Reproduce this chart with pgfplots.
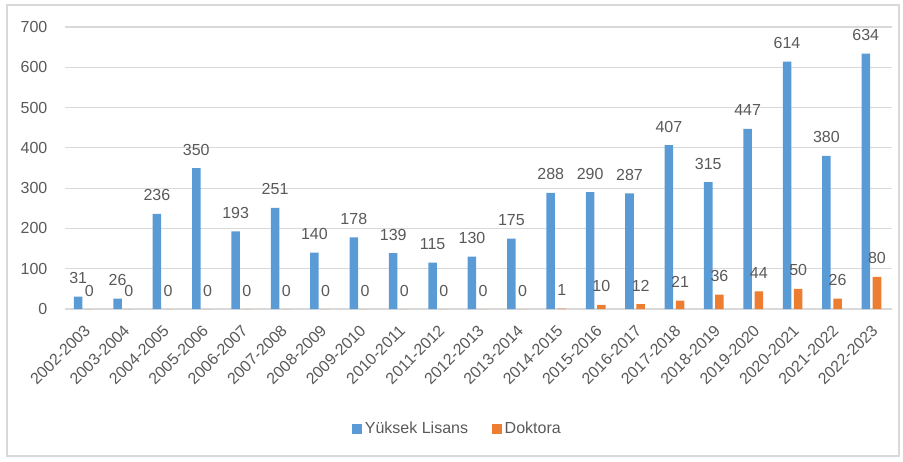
\documentclass[border=0pt]{standalone}
\usepackage{pgfplots}
\pgfplotsset{compat=1.18}
\usepackage{fontspec}
\setmainfont{Liberation Sans}
\definecolor{cblue}{HTML}{5B9BD5}
\definecolor{corange}{HTML}{ED7D31}
\definecolor{ctext}{HTML}{595959}
\definecolor{cgrid}{HTML}{D9D9D9}
\begin{document}
\begin{tikzpicture}
\useasboundingbox (-48.75pt,-114pt) rectangle (628.5pt,231.75pt);
\draw[cgrid, line width=1pt] (-43.5pt,-110.25pt) rectangle (625.5pt,228pt);
\begin{axis}[
  scale only axis, width=620.25pt, height=211.5pt,
  anchor=south west, at={(0pt,0pt)},
  xmin=-0.5, xmax=20.5, ymin=0, ymax=700,
  enlargelimits=false, clip=false,
  ybar, bar width=6.4pt,
  ytick={0,100,...,700},
  xtick={0,...,20},
  xticklabels={2002-2003,2003-2004,2004-2005,2005-2006,2006-2007,2007-2008,2008-2009,2009-2010,2010-2011,2011-2012,2012-2013,2013-2014,2014-2015,2015-2016,2016-2017,2017-2018,2018-2019,2019-2020,2020-2021,2021-2022,2022-2023},
  /pgf/number format/assume math mode=true,
  major tick length=0pt,
  axis line style={draw=none},
  ymajorgrids, grid style={cgrid, line width=0.9pt},
  tick label style={font=\fontsize{12}{14}\selectfont, color=ctext},
  yticklabel style={anchor=east, inner sep=0pt, xshift=-13pt},
  xticklabel style={yshift=-14pt, xshift=2pt, rotate=45, anchor=east, inner sep=0pt},
  nodes near coords,
  nodes near coords style={font=\fontsize{12}{14}\selectfont, color=ctext, anchor=base, inner sep=0pt, yshift=9.75pt},
  legend columns=2,
  legend style={at={(0.475,-0.4255)}, anchor=center, draw=none, fill=none,
    font=\fontsize{12}{14}\selectfont, text=ctext,
    /tikz/every even column/.append style={column sep=16pt}},
  legend image code/.code={\fill[#1] (0pt,-3.75pt) rectangle (7.5pt,3.75pt);},
]
\addplot[fill=cblue, draw=none, bar shift=-4.9pt] coordinates {
(0,31) (1,26) (2,236) (3,350) (4,193) (5,251) (6,140) (7,178) (8,139) (9,115) (10,130)
(11,175) (12,288) (13,290) (14,287) (15,407) (16,315) (17,447) (18,614) (19,380) (20,634)};
\addlegendentry{Yüksek Lisans}
\addplot[fill=corange, draw=none, bar shift=3.5pt] coordinates {
(0,0) (1,0) (2,0) (3,0) (4,0) (5,0) (6,0) (7,0) (8,0) (9,0) (10,0)
(11,0) (12,1) (13,10) (14,12) (15,21) (16,36) (17,44) (18,50) (19,26) (20,80)};
\addlegendentry{Doktora}
\end{axis}
\end{tikzpicture}
\end{document}
